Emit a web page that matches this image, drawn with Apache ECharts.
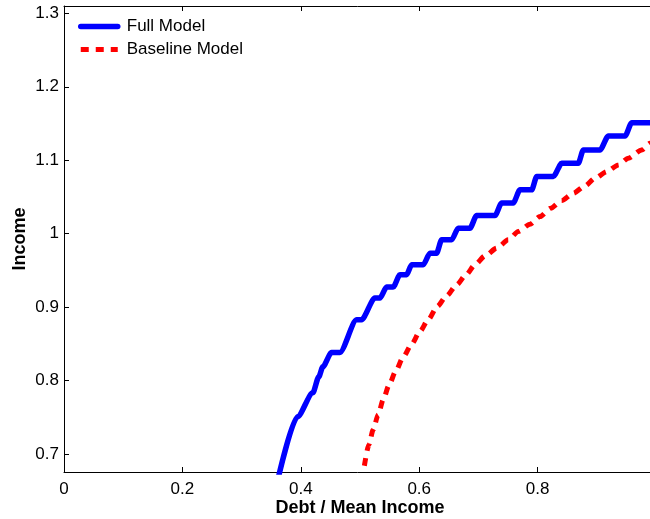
<!DOCTYPE html>
<html>
<head>
<meta charset="utf-8">
<script src="https://cdn.jsdelivr.net/npm/echarts@6/dist/echarts.min.js"></script>
<style>html,body{margin:0;padding:0;background:#fff}#c{width:650px;height:519px}</style>
</head>
<body>
<div id="c"></div>
<script>
// Full Model (blue solid)
const fullX = [0.3628,0.3944,0.4203,0.4304,0.4372,0.4519,0.4659,0.4942,0.5026,0.5251,0.5336,0.5449,0.5560,0.5674,0.5787,0.5872,0.6068,0.6181,0.6294,0.6379,0.6548,0.6659,0.6857,0.6970,0.7280,0.7393,0.7589,0.7702,0.7900,0.7985,0.8266,0.8407,0.8688,0.8773,0.9055,0.9195,0.9478,0.9591,0.9900,1.0000];
const fullY = [0.6708,0.7510,0.7836,0.8054,0.8190,0.8384,0.8384,0.8829,0.8829,0.9124,0.9124,0.9274,0.9274,0.9441,0.9441,0.9577,0.9577,0.9736,0.9736,0.9918,0.9918,1.0076,1.0076,1.0247,1.0247,1.0420,1.0420,1.0597,1.0597,1.0778,1.0778,1.0960,1.0960,1.1141,1.1141,1.1331,1.1331,1.1512,1.1512,1.1512];
// Baseline Model (red dashed)
const baseX = [0.5074,0.5150,0.5222,0.5307,0.5391,0.5493,0.5601,0.5730,0.5872,0.6012,0.6152,0.6304,0.6463,0.6632,0.6790,0.6942,0.7111,0.7309,0.7505,0.7674,0.7871,0.8041,0.8222,0.8407,0.8604,0.8801,0.8970,0.9168,0.9364,0.9533,0.9760,0.9900,1.0000];
const baseY = [0.6843,0.7129,0.7333,0.7537,0.7741,0.7945,0.8126,0.8322,0.8498,0.8670,0.8829,0.9010,0.9155,0.9305,0.9441,0.9577,0.9699,0.9804,0.9917,1.0030,1.0130,1.0234,1.0348,1.0451,1.0552,1.0651,1.0756,1.0846,1.0937,1.1028,1.1141,1.1232,1.1290];
const xTicks = [0, 0.2, 0.4, 0.6, 0.8];
const yTicks = [0.7, 0.8, 0.9, 1.0, 1.1, 1.2, 1.3];

const zip = (a, b) => a.map((v, i) => [v, b[i]]);
const FONT = 'Liberation Sans, Arial, Helvetica, sans-serif';
const chart = echarts.init(document.getElementById('c'), null, {renderer: 'canvas'});
chart.setOption({
  animation: false,
  backgroundColor: '#fff',
  grid: {left: 64, right: -6, top: 6, bottom: 47, containLabel: false, outerBoundsMode: 'none'},
  legend: {
    orient: 'vertical', left: 78, top: 18, padding: 0,
    itemWidth: 37, itemHeight: 14, itemGap: 6,
    itemStyle: {opacity: 0},
    textStyle: {fontFamily: FONT, fontSize: 17, color: '#000', padding: [0,0,0,4]},
    data: [
      {name: 'Full Model', lineStyle: {width: 5.5, color: '#0000ff'}},
      {name: 'Baseline Model', lineStyle: {width: 5, color: '#ff0000', type: [8, 7]}}
    ]
  },
  xAxis: [{
    type: 'value', min: 0, max: 1,
    name: 'Debt / Mean Income', nameLocation: 'middle', nameGap: 27, nameMoveOverlap: false,
    nameTextStyle: {fontFamily: FONT, fontSize: 18, fontWeight: 'bold', color: '#000'},
    axisLine: {show: true, onZero: false, lineStyle: {color: '#000', width: 1}},
    axisTick: {show: true, inside: true, length: 5, customValues: xTicks, lineStyle: {color: '#000'}},
    axisLabel: {customValues: xTicks, fontFamily: FONT, fontSize: 17, color: '#000', margin: 9,
      formatter: v => String(+(+v).toFixed(2))},
    splitLine: {show: false}
  }, {
    type: 'value', min: 0, max: 1, position: 'top',
    axisLine: {show: true, onZero: false, lineStyle: {color: '#000', width: 1}},
    axisTick: {show: true, inside: true, length: 5, customValues: xTicks, lineStyle: {color: '#000'}},
    axisLabel: {show: false}, splitLine: {show: false}
  }],
  yAxis: {
    type: 'value', min: 0.6758, max: 1.3099,
    name: 'Income', nameLocation: 'middle', nameGap: 35, nameRotate: 90, nameMoveOverlap: false,
    nameTextStyle: {fontFamily: FONT, fontSize: 18, fontWeight: 'bold', color: '#000'},
    axisLine: {show: true, onZero: false, lineStyle: {color: '#000', width: 1}},
    axisTick: {show: true, inside: true, length: 5, customValues: yTicks, lineStyle: {color: '#000'}},
    axisLabel: {customValues: yTicks, fontFamily: FONT, fontSize: 17, color: '#000', margin: 5,
      formatter: v => String(+(+v).toFixed(2))},
    splitLine: {show: false}
  },
  series: [{
    name: 'Full Model', type: 'line', data: zip(fullX, fullY),
    showSymbol: false, symbol: 'none', smooth: 0.25, smoothMonotone: 'x',
    color: '#0000ff',
    lineStyle: {color: '#0000ff', width: 5.5, cap: 'round', join: 'round'}
  }, {
    name: 'Baseline Model', type: 'line', data: zip(baseX, baseY),
    showSymbol: false, symbol: 'none', smooth: 0.25, smoothMonotone: 'x',
    color: '#ff0000',
    lineStyle: {color: '#ff0000', width: 5, type: [8, 7], cap: 'butt'}
  }]
});
</script>
</body>
</html>
